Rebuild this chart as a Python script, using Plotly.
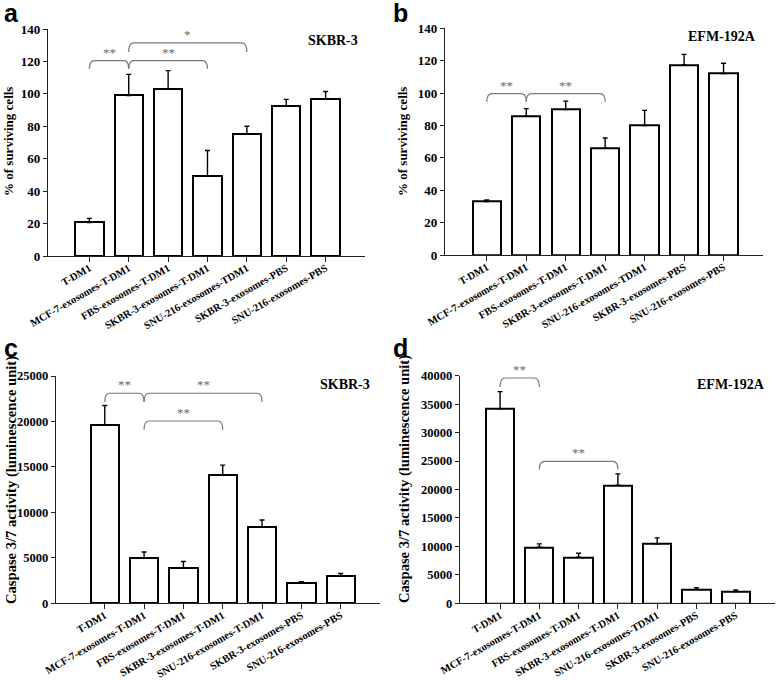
import plotly.graph_objects as go

W, H = 778, 680

# ---------------- data ----------------
x_labels_a = ["T-DM1", "MCF-7-exosomes-T-DM1", "FBS-exosomes-T-DM1", "SKBR-3-exosomes-T-DM1",
              "SNU-216-exosomes-TDM1", "SKBR-3-exosomes-PBS", "SNU-216-exosomes-PBS"]
x_labels_b = ["T-DM1", "MCF-7-exosomes-T-DM1", "FBS-exosomes-T-DM1", "SKBR-3-exosomes-T-DM1",
              "SNU-216-exosomes-TDM1", "SKBR-3-exosomes-PBS", "SNU-216-exosomes-PBS"]
x_labels_c = ["T-DM1", "MCF-7-exosomes-T-DM1", "FBS-exosomes-T-DM1", "SKBR-3-exosomes-T-DM1",
              "SNU-216-exosomes-T-DM1", "SKBR-3-exosomes-PBS", "SNU-216-exosomes-PBS"]
x_labels_d = ["T-DM1", "MCF-7-exosomes-T-DM1", "FBS-exosomes-T-DM1", "SKBR-3-exosomes-T-DM1",
              "SNU-216-exosomes-TDM1", "SKBR-3-exosomes-PBS", "SNU-216-exosomes-PBS"]

a_values = [20.7, 99, 103, 49.3, 75.5, 92.3, 97]
a_errors = [2.5, 13, 11.3, 15.8, 4.5, 4.3, 4.5]
b_values = [33, 85.7, 89.8, 66, 80, 117.4, 112]
b_errors = [1.0, 4.7, 5.2, 6.3, 9.3, 6.5, 6.4]
c_values = [19600, 5000, 3900, 14150, 8370, 2230, 2970]
c_errors = [2150, 650, 700, 1050, 800, 150, 300]
d_values = [34200, 9850, 8100, 20750, 10450, 2450, 2050]
d_errors = [3000, 600, 700, 2000, 1050, 300, 300]

a_ticks = [0, 20, 40, 60, 80, 100, 120, 140]
b_ticks = [0, 20, 40, 60, 80, 100, 120, 140]
c_ticks = [0, 5000, 10000, 15000, 20000, 25000]
d_ticks = [0, 5000, 10000, 15000, 20000, 25000, 30000, 35000, 40000]

# significance comparisons: (from category, to category, bracket level, tip level, label)
a_sig = [(0, 1, 120.5, 115.5, "**"), (1, 3, 120.5, 115.5, "**"), (1, 4, 131.4, 125.8, "*")]
b_sig = [(0, 1, 99.7, 94.5, "**"), (1, 3, 99.7, 94.5, "**")]
c_sig = [(0, 1, 23100, 22150, "**"), (1, 4, 23100, 22150, "**"), (1, 3, 20050, 19100, "**")]
d_sig = [(0, 1, 39600, 38000, "**"), (1, 3, 24950, 23500, "**")]

cell_lines = ["SKBR-3", "EFM-192A", "SKBR-3", "EFM-192A"]
panel_letters = ["a", "b", "c", "d"]
y_titles = ["% of surviving cells", "% of surviving cells",
            "Caspase 3/7 activity (luminescence unit)", "Caspase 3/7 activity (luminescence unit)"]

# ---------------- layout helpers ----------------
def px(x):
    return x / W

def py(y):
    return 1 - y / H

SERIF = "Liberation Serif"
SANS = "Liberation Sans"

panels = [
    dict(vals=a_values, errs=a_errors, labels=x_labels_a, ticks=a_ticks, sig=a_sig,
         xdom=(48, 365), ydom=(256, 29), yr=(0, 140), xr=(-1.05, 7.0), tfs=13),
    dict(vals=b_values, errs=b_errors, labels=x_labels_b, ticks=b_ticks, sig=b_sig,
         xdom=(445, 763), ydom=(255, 28.3), yr=(0, 140), xr=(-1.06, 7.0), tfs=13),
    dict(vals=c_values, errs=c_errors, labels=x_labels_c, ticks=c_ticks, sig=c_sig,
         xdom=(56, 380), ydom=(603.3, 376), yr=(0, 25000), xr=(-1.24, 7.0), tfs=12.5),
    dict(vals=d_values, errs=d_errors, labels=x_labels_d, ticks=d_ticks, sig=d_sig,
         xdom=(460, 775), ydom=(603.3, 375.7), yr=(0, 40000), xr=(-1.02, 7.0), tfs=12.5),
]

cell_pos = [(333, 40), (722, 36), (345, 384), (731, 384)]
letter_pos = [(2, 13), (391, 13), (2, 348), (391, 348)]
ytitle_pos = [(8, 142), (402, 142), (11, 480), (404, 479)]
ytitle_size = [13, 13, 14.6, 14.6]

fig = go.Figure()
shapes = []
annotations = []

for i, p in enumerate(panels):
    n = i + 1
    xa = "x" if n == 1 else f"x{n}"
    ya = "y" if n == 1 else f"y{n}"
    xs = list(range(len(p["vals"])))
    fig.add_trace(go.Bar(
        x=xs, y=p["vals"], width=0.72, xaxis=xa, yaxis=ya,
        marker=dict(color="white", line=dict(color="black", width=2)),
        error_y=dict(type="data", symmetric=False, array=p["errs"],
                     arrayminus=[0] * len(p["errs"]), color="black",
                     thickness=1.4, width=2.5),
        showlegend=False, hoverinfo="skip",
    ))
    axis_common = dict(showgrid=False, zeroline=False, showline=True, automargin=False,
                       linecolor="#222", linewidth=1.3, ticks="outside",
                       tickcolor="#222", tickwidth=1.2)
    fig.layout[("xaxis" if n == 1 else f"xaxis{n}")] = dict(
        domain=[px(p["xdom"][0]), px(p["xdom"][1])], anchor=ya,
        range=list(p["xr"]), tickmode="array", tickvals=xs, ticktext=p["labels"],
        tickangle=-30, ticklen=5, ticklabelstandoff=-4,
        tickfont=dict(family=SERIF, size=10.5, color="black", weight="bold"),
        **axis_common)
    fig.layout[("yaxis" if n == 1 else f"yaxis{n}")] = dict(
        domain=[py(p["ydom"][0]), py(p["ydom"][1])], anchor=xa,
        range=list(p["yr"]), tickmode="array", tickvals=p["ticks"], ticklen=4,
        tickformat="d",
        tickfont=dict(family=SERIF, size=p["tfs"], color="black", weight="bold"),
        **axis_common)

    # significance brackets
    for (c0, c1, lvl, tip, txt) in p["sig"]:
        dx = 0.13
        path = (f"M {c0},{tip} Q {c0},{lvl} {c0 + dx},{lvl} "
                f"L {c1 - dx},{lvl} Q {c1},{lvl} {c1},{tip}")
        shapes.append(dict(type="path", path=path, xref=xa, yref=ya,
                           line=dict(color="#7a7a7a", width=1.2)))
        annotations.append(dict(x=(c0 + c1) / 2, y=lvl, xref=xa, yref=ya,
                                text=txt, showarrow=False, yanchor="bottom", yshift=-1,
                                font=dict(family=SERIF, size=13, color="#6a6a6a")))

    # cell line label
    cx, cy = cell_pos[i]
    annotations.append(dict(x=px(cx), y=py(cy), xref="paper", yref="paper",
                            text=cell_lines[i], showarrow=False,
                            xanchor="center", yanchor="middle",
                            font=dict(family=SERIF, size=14, color="black", weight="bold")))
    # panel letter
    lx, ly = letter_pos[i]
    annotations.append(dict(x=px(lx), y=py(ly), xref="paper", yref="paper",
                            text=panel_letters[i], showarrow=False,
                            xanchor="left", yanchor="middle",
                            font=dict(family=SANS, size=25, color="black", weight="bold")))
    # y-axis title
    tx, ty = ytitle_pos[i]
    annotations.append(dict(x=px(tx), y=py(ty), xref="paper", yref="paper",
                            text=y_titles[i], showarrow=False, textangle=-90,
                            xanchor="center", yanchor="middle",
                            font=dict(family=SERIF, size=ytitle_size[i], color="black",
                                      weight="bold")))

fig.update_layout(
    width=W, height=H, margin=dict(l=0, r=0, t=0, b=0),
    paper_bgcolor="white", plot_bgcolor="white",
    shapes=shapes, annotations=annotations, bargap=0,
)

fig.write_html("out.html", config={"displayModeBar": False},
               post_script="document.body.style.margin='0';document.body.style.overflow='hidden';")
